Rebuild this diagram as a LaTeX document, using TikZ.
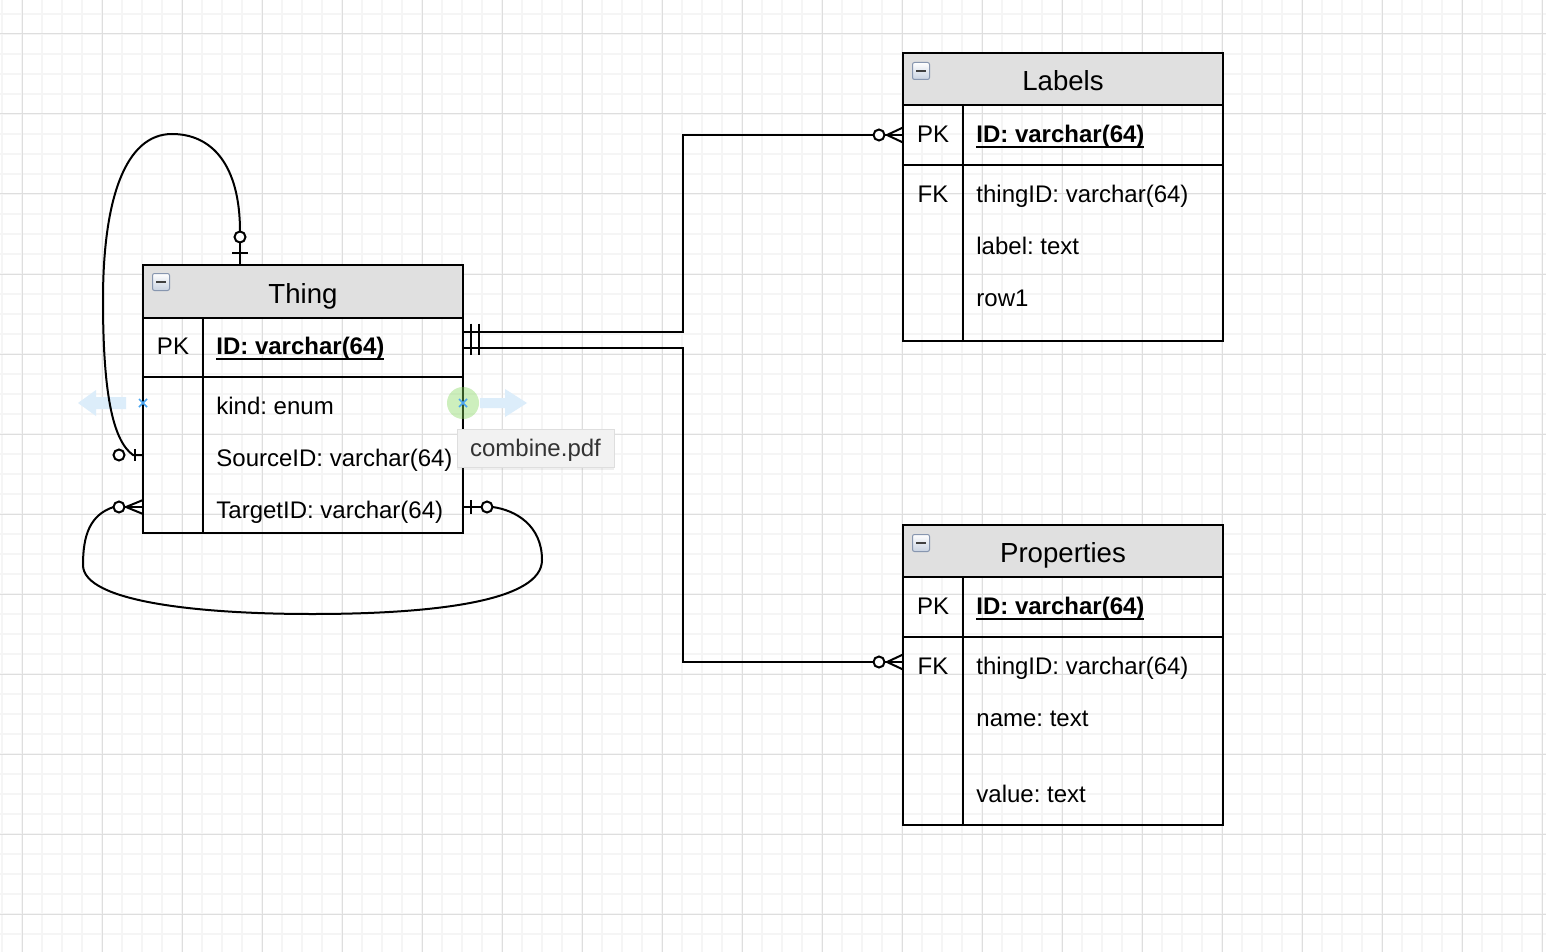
\documentclass[tikz,border=0pt]{standalone}
\usepackage{fontspec}
\setmainfont{Liberation Sans}
\usetikzlibrary{positioning,shadows}
\frenchspacing

\definecolor{hdrgray}{RGB}{224,224,224}
\definecolor{gmajor}{RGB}{222,222,222}
\definecolor{gminor}{RGB}{245,245,245}
\definecolor{selblue}{RGB}{220,237,250}
\definecolor{xblue}{RGB}{74,165,240}
\definecolor{hovergreen}{RGB}{130,215,90}
\definecolor{tipgray}{RGB}{242,242,242}
\definecolor{tipedge}{RGB}{222,222,222}
\definecolor{iconedge}{RGB}{135,150,175}
\definecolor{iconfill}{RGB}{200,210,225}

% bold key name with a close underline
\newcommand{\pkname}[1]{\setbox0\hbox{\textbf{#1}}\rlap{\vrule width\wd0 height -1.7pt depth 2.7pt}\box0}

\tikzset{
  majorline/.style={draw=gmajor, line width=0.5pt},
  minorline/.style={draw=gminor, line width=1pt},
  cell/.style={draw, line width=1pt, inner sep=0pt, outer sep=0pt},
  hdr/.style={cell, fill=hdrgray, minimum width=160pt, minimum height=26pt},
  keycell/.style={cell, minimum width=30pt},
  fieldcell/.style={cell, minimum width=130pt},
  title/.style={font=\fontsize{13.8}{16}\selectfont, text height=9.9pt, text depth=0pt, inner sep=0pt},
  keytxt/.style={font=\fontsize{12}{14}\selectfont, text height=8.6pt, text depth=0pt, inner sep=0pt},
  fieldtxt/.style={keytxt, anchor=west},
  minbox/.style={draw=iconedge, line width=0.5pt, rounded corners=1pt, top color=white, bottom color=iconfill,
    minimum width=8.5pt, minimum height=8.5pt, inner sep=0pt,
    path picture={\draw[line width=1.3pt, black!75] ([xshift=1.8pt]path picture bounding box.west) -- ([xshift=-1.8pt]path picture bounding box.east);}},
  conn/.style={line width=1pt},
  endring/.style={draw, line width=1pt, fill=white},
  tipbox/.style={draw=tipedge, line width=0.5pt, fill=tipgray, minimum width=78.5pt, minimum height=19pt,
    inner sep=0pt, text=black!80, font=\fontsize{12}{14}\selectfont, text height=8.6pt, text depth=0pt,
    drop shadow={opacity=0.12, shadow xshift=0pt, shadow yshift=-1.5pt}}
}

\begin{document}
\begin{tikzpicture}[x=0.5pt, y=-0.5pt]
 \useasboundingbox (0,0) rectangle (1546,952);
 % grid
 \fill[white] (0,0) rectangle (1546,952);
 \foreach \x in {2,22,...,1542} \draw[minorline] (\x,0) -- (\x,952);
 \foreach \y in {14,34,...,954} \draw[minorline] (0,\y) -- (1546,\y);
 \foreach \x in {22,102,...,1542} \draw[majorline] (\x,0) -- (\x,952);
 \foreach \y in {34,114,...,914} \draw[majorline] (0,\y) -- (1546,\y);

 % selection arrow (left)
 \fill[selblue] (78,403) -- (96,390) -- (96,397) -- (126,397) -- (126,409) -- (96,409) -- (96,416) -- cycle;

 % Thing
 \node[hdr, minimum height=26.5pt, anchor=north west] (thingH) at (143,265) {};
 \node[keycell, minimum height=29.5pt, below right=0pt and 0pt of thingH.south west] (thingPK) {};
 \node[fieldcell, minimum height=29.5pt, right=0pt of thingPK] (thingPF) {};
 \node[keycell, minimum height=78pt, below right=0pt and 0pt of thingPK.south west] (thingBK) {};
 \node[fieldcell, minimum height=78pt, right=0pt of thingBK] (thingBF) {};
 \node[minbox] (thingI) at ([xshift=9pt,yshift=-8.5pt]thingH.north west) {};
 \node[title] (thingT) at ([yshift=-1pt]thingH.center) {Thing};
 \node[keytxt] (thingPKt) at ([yshift=0.75pt]thingPK.center) {PK};
 \node[fieldtxt] (thingID) at ([xshift=6.5pt,yshift=0.75pt]thingPF.west) {\pkname{ID: varchar(64)}};
 \foreach \f [count=\i] in {kind: enum, SourceID: varchar(64), TargetID: varchar(64)}
  \node[fieldtxt] (thingF\i) at ([xshift=6.5pt, yshift={-14.5pt-(\i-1)*26pt}]thingBK.north east) {\f};

 % Labels
 \node[hdr, anchor=north west] (labH) at (903,53) {};
 \node[keycell, minimum height=30pt, below right=0pt and 0pt of labH.south west] (labPK) {};
 \node[fieldcell, minimum height=30pt, right=0pt of labPK] (labPF) {};
 \node[keycell, minimum height=88pt, below right=0pt and 0pt of labPK.south west] (labBK) {};
 \node[fieldcell, minimum height=88pt, right=0pt of labBK] (labBF) {};
 \node[minbox] (labI) at ([xshift=9pt,yshift=-9pt]labH.north west) {};
 \node[title] (labT) at ([yshift=-1pt]labH.center) {Labels};
 \node[keytxt] (labPKt) at ([yshift=0.5pt]labPK.center) {PK};
 \node[fieldtxt] (labID) at ([xshift=6.5pt,yshift=0.5pt]labPF.west) {\pkname{ID: varchar(64)}};
 \node[keytxt] (labFKt) at ([yshift=-14.5pt]labBK.north) {FK};
 \foreach \f [count=\i] in {thingID: varchar(64), label: text, row1}
  \node[fieldtxt] (labF\i) at ([xshift=6.5pt, yshift={-14.5pt-(\i-1)*26pt}]labBK.north east) {\f};

 % Properties
 \node[hdr, anchor=north west] (propH) at (903,525) {};
 \node[keycell, minimum height=30pt, below right=0pt and 0pt of propH.south west] (propPK) {};
 \node[fieldcell, minimum height=30pt, right=0pt of propPK] (propPF) {};
 \node[keycell, minimum height=94pt, below right=0pt and 0pt of propPK.south west] (propBK) {};
 \node[fieldcell, minimum height=94pt, right=0pt of propBK] (propBF) {};
 \node[minbox] (propI) at ([xshift=9pt,yshift=-9pt]propH.north west) {};
 \node[title] (propT) at ([yshift=-1pt]propH.center) {Properties};
 \node[keytxt] (propPKt) at ([yshift=0.5pt]propPK.center) {PK};
 \node[fieldtxt] (propID) at ([xshift=6.5pt,yshift=0.5pt]propPF.west) {\pkname{ID: varchar(64)}};
 \node[keytxt] (propFKt) at ([yshift=-14.5pt]propBK.north) {FK};
 \foreach \f/\d [count=\i] in {thingID: varchar(64)/14.5, name: text/40.5, value: text/78.5}
  \node[fieldtxt] (propF\i) at ([xshift=6.5pt, yshift={-\d pt}]propBK.north east) {\f};

 % connection points
 \coordinate (busX) at (683,0);
 \coordinate (propFK) at ([yshift=-12.5pt]propBK.north west);
 \coordinate (thingTop) at ([xshift=48.5pt]thingH.north west);
 \coordinate (thingSrc) at ([yshift=-39pt]thingBK.north west);
 \coordinate (thingTgtL) at ([yshift=-65pt]thingBK.north west);
 \coordinate (thingTgtR) at ([yshift=-65pt]thingBF.north east);

 % Thing -> Labels, Thing -> Properties
 \draw[conn] ([yshift=8pt]thingPF.east) -| (busX |- labPK.west) -- (labPK.west);
 \draw[conn] (thingPF.east) -| (busX |- propFK) -- (propFK);
 \draw[conn] ([xshift=4pt,yshift=12pt]thingPF.east) -- ([xshift=4pt,yshift=-3.5pt]thingPF.east);
 \draw[conn] ([xshift=8pt,yshift=12pt]thingPF.east) -- ([xshift=8pt,yshift=-3.5pt]thingPF.east);
 \draw[conn] ([yshift=3.75pt]labPK.west) -- ++(-16,7.5) -- ++(16,7.5);
 \draw[endring] ([xshift=-12pt]labPK.west) circle[radius=2.75pt];
 \draw[conn] ([yshift=3.75pt]propFK) -- ++(-16,7.5) -- ++(16,7.5);
 \draw[endring] ([xshift=-12pt]propFK) circle[radius=2.75pt];

 % self loop: SourceID
 \draw[conn] (thingTop) -- ([yshift=11.25pt]thingTop);
 \draw[conn] ([xshift=-4pt,yshift=6pt]thingTop) -- ([xshift=4pt,yshift=6pt]thingTop);
 \draw[endring] ([yshift=14pt]thingTop) circle[radius=2.75pt];
 \draw[conn] ([yshift=16.75pt]thingTop) .. controls (240,165) and (212,134) .. (172,134)
   .. controls (125,134) and (103,200) .. (103,300)
   .. controls (103,390) and (112,440) .. ([xshift=-5pt]thingSrc) -- (thingSrc);
 \draw[conn] ([xshift=-4pt,yshift=3pt]thingSrc) -- ([xshift=-4pt,yshift=-3pt]thingSrc);
 \draw[endring] ([xshift=-12pt]thingSrc) circle[radius=2.75pt];

 % self loop: TargetID
 \draw[conn] ([xshift=-9.25pt]thingTgtL) -- (thingTgtL);
 \draw[conn] ([yshift=3.5pt]thingTgtL) -- ++(-17,7) -- ++(17,7);
 \draw[endring] ([xshift=-12pt]thingTgtL) circle[radius=2.75pt];
 \draw[conn] (thingTgtR) -- ([xshift=9.25pt]thingTgtR);
 \draw[conn] ([xshift=4pt,yshift=3.5pt]thingTgtR) -- ([xshift=4pt,yshift=-3.5pt]thingTgtR);
 \draw[endring] ([xshift=12pt]thingTgtR) circle[radius=2.75pt];
 \draw[conn] ([xshift=-14.75pt]thingTgtL) .. controls (90,515) and (83,535) .. (83,565)
   .. controls (83,602) and (200,614) .. (312,614)
   .. controls (440,614) and (542,600) .. (542,560)
   .. controls (542,525) and (515,510) .. ([xshift=14.75pt]thingTgtR);

 % selection handles
 \fill[selblue] (527,403) -- (505,389) -- (505,398) -- (480,398) -- (480,408) -- (505,408) -- (505,417) -- cycle;
 \fill[hovergreen, fill opacity=0.4] (463,403) circle[radius=8pt];
 \draw[xblue, line width=0.8pt] (139,399) -- (147,407) (139,407) -- (147,399);
 \draw[xblue, line width=0.8pt] (459,399) -- (467,407) (459,407) -- (467,399);

 % tooltip
 \node[tipbox] (tip) at (535.5,448) {combine.pdf};
\end{tikzpicture}
\end{document}
